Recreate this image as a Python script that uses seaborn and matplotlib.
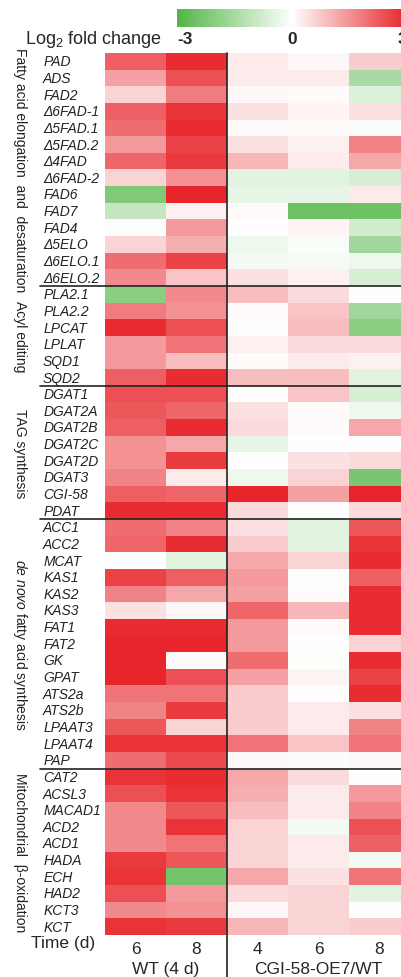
import numpy as np
import pandas as pd
import matplotlib
matplotlib.use("Agg")
import matplotlib.pyplot as plt
import seaborn as sns
from matplotlib.colors import LinearSegmentedColormap

sns.set_theme(style="white")
plt.rcParams["font.family"] = ["Liberation Sans", "DejaVu Sans"]
plt.rcParams["mathtext.fontset"] = "custom"
plt.rcParams["mathtext.rm"] = "Liberation Sans"
plt.rcParams["mathtext.it"] = "Liberation Sans:italic"

# gene groups
groups = ["Fatty acid elongation  and  desaturation", "Acyl editing", "TAG synthesis",
          r"$\it{de\ novo}$ fatty acid synthesis", "Mitochondrial  β-oxidation"]
group_sizes = [14, 6, 8, 15, 10]

genes = ["PAD", "ADS", "FAD2", "Δ6FAD-1", "Δ5FAD.1", "Δ5FAD.2", "Δ4FAD", "Δ6FAD-2",
         "FAD6", "FAD7", "FAD4", "Δ5ELO", "Δ6ELO.1", "Δ6ELO.2",
         "PLA2.1", "PLA2.2", "LPCAT", "LPLAT", "SQD1", "SQD2",
         "DGAT1", "DGAT2A", "DGAT2B", "DGAT2C", "DGAT2D", "DGAT3", "CGI-58", "PDAT",
         "ACC1", "ACC2", "MCAT", "KAS1", "KAS2", "KAS3", "FAT1", "FAT2", "GK", "GPAT",
         "ATS2a", "ATS2b", "LPAAT3", "LPAAT4", "PAP",
         "CAT2", "ACSL3", "MACAD1", "ACD2", "ACD1", "HADA", "ECH", "HAD2", "KCT3", "KCT"]

time_labels = ["6", "8", "4", "6", "8"]

# log2 fold change, columns: WT 6d, WT 8d (vs 4 d), OE7/WT 4d, 6d, 8d
wt_6 = [2.2, 1.3, 0.6, 2.2, 2.0, 1.4, 2.1, 0.6, -2.2, -1.0, -0.05, 0.6, 2.0, 1.6,
        -2.0, 1.8, 2.9, 1.4, 1.4, 2.2,
        2.4, 2.3, 2.2, 1.5, 1.5, 1.7, 2.2, 2.9,
        2.0, 2.1, 0.0, 2.6, 1.7, 0.4, 2.9, 3.0, 3.0, 3.0, 1.9, 1.7, 2.3, 2.8, 2.0,
        2.8, 2.4, 1.6, 1.6, 1.6, 2.7, 2.8, 2.4, 1.6, 2.8]
wt_8 = [2.9, 2.4, 1.8, 2.8, 2.9, 2.6, 2.7, 1.5, 3.0, 0.2, 1.4, 1.1, 2.6, 0.8,
        1.6, 1.5, 2.4, 1.9, 0.9, 2.9,
        2.4, 2.1, 2.9, 1.2, 2.7, 0.3, 2.1, 2.9,
        1.7, 2.9, -0.5, 2.2, 1.2, 0.1, 2.9, 3.0, 0.05, 2.4, 1.9, 2.7, 0.6, 2.8, 2.5,
        2.9, 2.8, 2.3, 2.8, 1.9, 2.3, -2.4, 1.4, 1.5, 2.7]
oe_4 = [0.3, 0.3, 0.1, 0.4, 0.05, 0.4, 1.0, -0.5, -0.4, 0.05, 0.0, -0.3, -0.2, 0.4,
        0.9, 0.05, 0.0, 0.2, 0.05, 0.9,
        0.0, 0.4, 0.5, -0.4, 0.0, -0.3, 3.0, 0.5,
        0.4, 0.7, 1.2, 1.4, 1.3, 2.1, 1.4, 1.4, 2.0, 1.3, 0.7, 0.7, 0.7, 1.9, 0.1,
        1.2, 1.1, 0.9, 0.6, 0.6, 0.6, 1.2, 0.5, 0.1, 1.0]
oe_6 = [0.1, 0.3, 0.05, 0.15, 0.05, 0.2, 0.3, -0.5, -0.4, -2.5, 0.15, -0.1, -0.15, 0.2,
        0.5, 0.8, 0.9, 0.5, 0.3, 0.9,
        0.8, 0.05, 0.05, 0.0, 0.4, 0.6, 1.3, 0.0,
        -0.5, -0.5, 0.6, 0.0, 0.05, 1.0, 0.05, 0.0, -0.05, 0.15, 0.0, 0.3, 0.3, 0.8, -0.1,
        0.5, 0.3, 0.3, -0.2, 0.3, 0.3, 0.4, 0.6, 0.6, 0.6]
oe_8 = [0.7, -1.5, -0.6, 0.4, -0.1, 1.7, 1.2, -0.7, 0.3, -2.5, -0.8, -1.6, -0.3, -0.7,
        0.0, -1.6, -2.0, 0.5, 0.2, -0.5,
        -0.7, -0.3, 1.2, 0.0, 0.5, -2.3, 3.0, 0.5,
        2.3, 2.8, 2.9, 2.2, 2.9, 2.9, 2.9, 0.6, 2.9, 2.6, 2.9, 0.4, 1.7, 1.9, 0.1,
        0.0, 1.4, 1.7, 2.4, 2.2, -0.2, 1.9, -0.5, 0.0, 0.7]

df = pd.DataFrame({"WT6": wt_6, "WT8": wt_8, "OE4": oe_4, "OE6": oe_6, "OE8": oe_8},
                  index=genes)

cmap = LinearSegmentedColormap.from_list("gwr", ["#52b546", "#ffffff", "#e7252a"])

W, H = 401, 978
fig = plt.figure(figsize=(W / 100, H / 100), dpi=100)
ax = fig.add_axes([105 / W, 1 - 936 / H, 305 / W, 882 / H])
cax = fig.add_axes([177 / W, 1 - 28 / H, 230 / W, 18 / H])

sns.heatmap(df, ax=ax, cmap=cmap, vmin=-3, vmax=3, cbar_ax=cax,
            cbar_kws={"orientation": "horizontal"},
            xticklabels=time_labels, yticklabels=False)

# colorbar styling
cbar = ax.collections[0].colorbar
cbar.outline.set_visible(False)
cax.set_xticks([])
cax.text(-3, -0.25, "-3", transform=cax.get_xaxis_transform(), ha="left", va="top",
         fontsize=12.5, fontweight="bold")
cax.text(0, -0.25, "0", transform=cax.get_xaxis_transform(), ha="center", va="top",
         fontsize=12.5, fontweight="bold")
cax.text(3, -0.25, "3", transform=cax.get_xaxis_transform(), ha="right", va="top",
         fontsize=12.5, fontweight="bold")
fig.text(25 / W, 1 - 40 / H, r"Log$_2$ fold change", ha="left", va="center", fontsize=13)

# gene labels
ytr = ax.get_yaxis_transform()
for i, g in enumerate(genes):
    ax.text(-0.203, i + 0.5, g, transform=ytr, ha="left", va="center",
            fontsize=10, style="italic", color="#222222")

# group labels and separators
start = 0
bounds = np.cumsum(group_sizes)
for name, size in zip(groups, group_sizes):
    ax.text(-0.278, start + size / 2, name, transform=ytr, rotation=270,
            ha="center", va="center", fontsize=10, color="#222222")
    start += size
for b in bounds[:-1]:
    ax.axhline(b, xmin=-0.213, xmax=1, color="#222222", lw=1.2, clip_on=False)

# vertical divider between WT and OE7/WT
ax.axvline(2, ymin=-42 / 882, ymax=1, color="#222222", lw=1.2, clip_on=False)

# bottom axis
ax.tick_params(axis="x", length=0, pad=4, labelsize=12.5, rotation=0)
ax.tick_params(axis="y", length=0)
ax.text(-0.033, -0.0, "Time (d)", transform=ax.transAxes, ha="right", va="top",
        fontsize=12.5)
ax.text(1, -0.029, "WT (4 d)", transform=ax.get_xaxis_transform(), ha="center", va="top",
        fontsize=12.5)
ax.text(3.5, -0.029, "CGI-58-OE7/WT", transform=ax.get_xaxis_transform(), ha="center",
        va="top", fontsize=12.5)

fig.savefig("out.png", dpi=100)
